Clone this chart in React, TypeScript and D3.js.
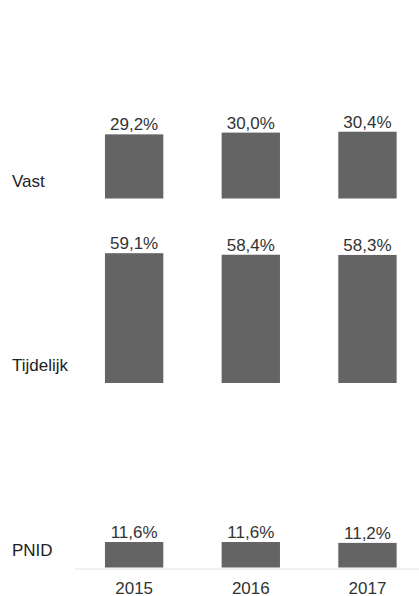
import { scaleBand, scaleLinear } from 'd3'

const ROWS = ['Vast', 'Tijdelijk', 'PNID']
const YEARS = ['2015', '2016', '2017']
const VAST = [29.2, 30.0, 30.4]
const TIJDELIJK = [59.1, 58.4, 58.3]
const PNID = [11.6, 11.6, 11.2]

const SERIES = [VAST, TIJDELIJK, PNID]

const W = 419
const H = 596
const FONT = '"Liberation Sans", Arial, sans-serif'

const fmt = (v: number) => v.toFixed(1).replace('.', ',') + '%'

export default function App() {
  // one band per row, bars sit on the bottom of each band
  const row = scaleBand<string>().domain(ROWS).range([14, 567.5])
  const col = scaleBand<string>()
    .domain(YEARS)
    .range([75.8, 425.8])
    .paddingInner(0.5)
    .paddingOuter(0.25)
  const h = scaleLinear().domain([0, 84]).range([0, row.bandwidth()])

  const axisY = (row('PNID') ?? 0) + row.bandwidth() + 1.5

  return (
    <svg
      width={W}
      height={H}
      viewBox={`0 0 ${W} ${H}`}
      style={{ position: 'absolute', left: 0, top: 0, background: '#fff' }}
      fontFamily={FONT}
    >
      {ROWS.map((r, i) => {
        const base = (row(r) ?? 0) + row.bandwidth()
        return (
          <g key={r}>
            <text x={12} y={base - 12} fontSize={17} fill="#222">
              {r}
            </text>
            {SERIES[i].map((v, j) => {
              const x = col(YEARS[j]) ?? 0
              const top = base - h(v)
              return (
                <g key={YEARS[j]}>
                  <rect
                    x={x}
                    y={top}
                    width={col.bandwidth()}
                    height={h(v)}
                    fill="#646464"
                  />
                  <text
                    x={x + col.bandwidth() / 2}
                    y={top - 4}
                    textAnchor="middle"
                    fontSize={17}
                    fill="#333"
                  >
                    {fmt(v)}
                  </text>
                </g>
              )
            })}
          </g>
        )
      })}
      <line x1={75} x2={W} y1={axisY} y2={axisY} stroke="#e0e0e0" strokeWidth={1} />
      {YEARS.map((y) => (
        <text
          key={y}
          x={(col(y) ?? 0) + col.bandwidth() / 2}
          y={594}
          textAnchor="middle"
          fontSize={17}
          fill="#333"
        >
          {y}
        </text>
      ))}
    </svg>
  )
}
